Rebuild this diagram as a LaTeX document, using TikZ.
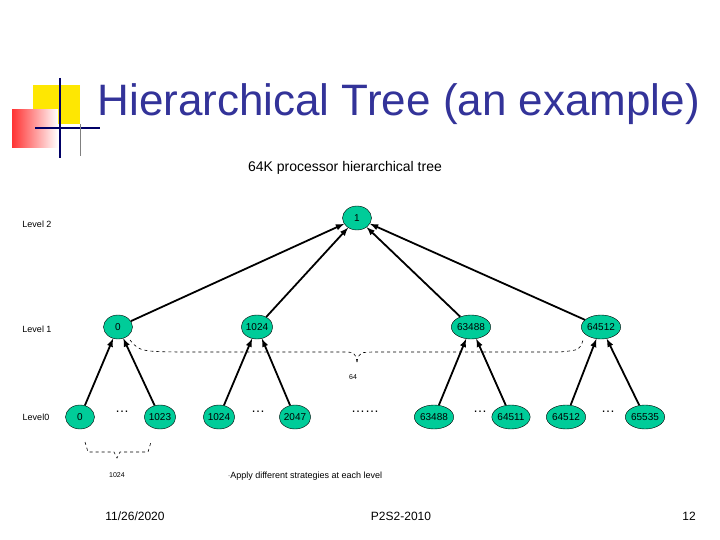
\documentclass[tikz,border=0pt]{standalone}
\usepackage{fontspec}
\setmainfont{Liberation Sans}
\usetikzlibrary{shapes.geometric}
\begin{document}
\begin{tikzpicture}[x=1pt,y=-1pt,
 nd/.style={ellipse,draw=black,fill={rgb,255:red,0;green,204;blue,153},minimum width=29pt,minimum height=24pt,inner sep=0pt,font=\fontsize{10}{11}\selectfont},
 up/.style={draw,line width=1.8pt,-latex},
 lbl/.style={font=\fontsize{9}{10}\selectfont},
 br/.style={draw,dashed,line width=0.6pt}]
\useasboundingbox (0,0) rectangle (720,540);
\fill[fill=white] (0,0) rectangle (720,540);
% logo
\fill[yellow!90!orange] (33,85) rectangle (80,124);
\shade[left color=red!80, right color=white] (12,110) rectangle (58,148);
\draw[blue!40!black,line width=2pt] (60,78) -- (60,158);
\draw[blue!40!black,line width=1.5pt] (35,128) -- (100,128);
\draw[gray,line width=1pt] (80,124) -- (80,156);
\node[anchor=west,font=\fontsize{44}{46}\selectfont,text={rgb,255:red,51;green,51;blue,153}] (title) at (94,104) {Hierarchical Tree (an example)};
\node[font=\fontsize{14}{16}\selectfont] (sub) at (345,168) {64K processor hierarchical tree};
\node[lbl] (l2) at (37,224) {Level 2};
\node[lbl] (l1) at (37,329) {Level 1};
\node[lbl] (l0) at (36,417) {Level0};
\node[nd] (r) at (357,218) {1};
\node[nd] (a) at (118,327) {0};
\node[nd] (b) at (257,327) {1024};
\node[nd] (c) at (471,327) {63488};
\node[nd] (d) at (601,327) {64512};
\foreach \n in {a,b,c,d} \draw[up] (\n) -- (r);
\node[nd] (a1) at (80,417) {0};
\node[nd] (a2) at (160,417) {1023};
\node[nd] (b1) at (219,417) {1024};
\node[nd] (b2) at (295,417) {2047};
\node[nd] (c1) at (434,417) {63488};
\node[nd] (c2) at (511,417) {64511};
\node[nd] (d1) at (566,417) {64512};
\node[nd] (d2) at (645,417) {65535};
\draw[up] (a1) -- (a); \draw[up] (a2) -- (a);
\draw[up] (b1) -- (b); \draw[up] (b2) -- (b);
\draw[up] (c1) -- (c); \draw[up] (c2) -- (c);
\draw[up] (d1) -- (d); \draw[up] (d2) -- (d);
\node[font=\fontsize{14}{14}\selectfont] (e1) at (122,412) {\dots};
\node[font=\fontsize{14}{14}\selectfont] (e2) at (258,412) {\dots};
\node[font=\fontsize{14}{14}\selectfont] (e3) at (365,412) {\dots\dots};
\node[font=\fontsize{14}{14}\selectfont] (e4) at (480,412) {\dots};
\node[font=\fontsize{14}{14}\selectfont] (e5) at (608,412) {\dots};
% braces
\coordinate (bs) at (130,340); \coordinate (be) at (583,340);
\draw[br] (bs) .. controls (140,352) .. (200,352) -- (340,352) .. controls (355,352) .. (357,362);
\draw[br] (357,362) .. controls (359,352) .. (380,352) -- (560,352) .. controls (580,350) .. (be);
\node[lbl,font=\fontsize{7}{8}\selectfont] (n64) at (353,377) {64};
\draw[br] (85,442) -- (88,452) -- (114,452) -- (117,458) -- (120,452) -- (148,452) -- (151,442);
\node[lbl,font=\fontsize{7}{8}\selectfont] (n1024) at (117,475) {1024};
\node[lbl] (apply) at (305,476) {$\cdot$Apply different strategies at each level};
\node[font=\fontsize{12}{14}\selectfont] (date) at (135,516) {11/26/2020};
\node[font=\fontsize{12}{14}\selectfont] (mid) at (401,516) {P2S2-2010};
\node[font=\fontsize{12}{14}\selectfont] (pg) at (689,516) {12};
\end{tikzpicture}
\end{document}
